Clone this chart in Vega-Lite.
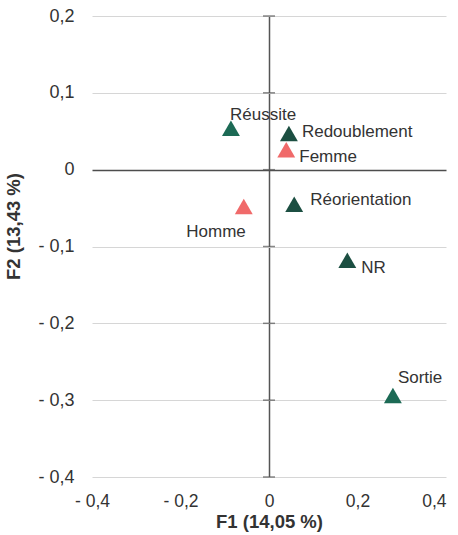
{
  "$schema": "https://vega.github.io/schema/vega-lite/v6.json",
  "width": 354,
  "height": 461,
  "autosize": {"type": "none"},
  "padding": {"left": 92, "top": 16, "right": 12, "bottom": 58},
  "background": "white",
  "config": {
    "view": {"stroke": null},
    "font": "Liberation Sans",
    "text": {"font": "Liberation Sans"}
  },
  "datasets": {
    "points": [
      {"modalite": "Réussite", "groupe": "Résultat", "x": -0.086, "y": 0.054},
      {"modalite": "Redoublement", "groupe": "Parcours", "x": 0.045, "y": 0.047},
      {"modalite": "Femme", "groupe": "Sexe", "x": 0.039, "y": 0.026},
      {"modalite": "Homme", "groupe": "Sexe", "x": -0.057, "y": -0.048},
      {"modalite": "Réorientation", "groupe": "Parcours", "x": 0.057, "y": -0.045},
      {"modalite": "NR", "groupe": "Parcours", "x": 0.177, "y": -0.118},
      {"modalite": "Sortie", "groupe": "Résultat", "x": 0.280, "y": -0.294}
    ],
    "graduations": [
      {"x": 0, "y": 0.2},
      {"x": 0, "y": 0.1},
      {"x": 0, "y": 0},
      {"x": 0, "y": -0.1},
      {"x": 0, "y": -0.2},
      {"x": 0, "y": -0.3},
      {"x": 0, "y": -0.4}
    ]
  },
  "encoding": {
    "x": {
      "field": "x",
      "type": "quantitative",
      "scale": {"domain": [-0.4, 0.4], "nice": false, "zero": false},
      "axis": {
        "title": "F1 (14,05 %)",
        "values": [-0.4, -0.2, 0, 0.2, 0.4],
        "labelExpr": "datum.value === 0 ? '0' : (datum.value < 0 ? '- ' : '') + replace(format(abs(datum.value), '.1f'), '.', ',')",
        "labelFont": "Liberation Sans",
        "labelFontSize": 17.5,
        "labelColor": "#333333",
        "labelPadding": 15,
        "labelAlign": {"condition": {"test": "datum.value === 0.4", "value": "right"}, "value": "center"},
        "ticks": false,
        "tickSize": 0,
        "domain": false,
        "grid": true,
        "gridColor": {"condition": {"test": "datum.value === 0", "value": "#555555"}, "value": null},
        "gridWidth": 1.5,
        "titleFont": "Liberation Sans",
        "titleFontSize": 18.5,
        "titleFontWeight": "bold",
        "titleColor": "#333333",
        "titleX": 177,
        "titleY": 44,
        "titleAlign": "center",
        "titleBaseline": "middle"
      }
    },
    "y": {
      "field": "y",
      "type": "quantitative",
      "scale": {"domain": [-0.4, 0.2], "nice": false, "zero": false},
      "axis": {
        "title": "F2 (13,43 %)",
        "values": [-0.4, -0.3, -0.2, -0.1, 0, 0.1, 0.2],
        "labelExpr": "datum.value === 0 ? '0' : (datum.value < 0 ? '- ' : '') + replace(format(abs(datum.value), '.1f'), '.', ',')",
        "labelFont": "Liberation Sans",
        "labelFontSize": 18,
        "labelColor": "#333333",
        "labelPadding": 18,
        "ticks": false,
        "tickSize": 0,
        "domain": false,
        "grid": true,
        "gridColor": {"condition": {"test": "datum.value === 0", "value": "#4d4d4d"}, "value": "#d6d6d6"},
        "gridWidth": {"condition": {"test": "datum.value === 0", "value": 1.5}, "value": 1},
        "titleFont": "Liberation Sans",
        "titleFontSize": 18.5,
        "titleFontWeight": "bold",
        "titleColor": "#333333",
        "titleAngle": -90,
        "titleX": -79,
        "titleY": 210,
        "titleAlign": "center",
        "titleBaseline": "middle"
      }
    }
  },
  "layer": [
    {
      "data": {"name": "graduations"},
      "mark": {"type": "tick", "orient": "horizontal", "size": 12, "thickness": 1.5, "color": "#555555"}
    },
    {
      "data": {"name": "points"},
      "mark": {"type": "point", "shape": "triangle-up", "filled": true, "opacity": 1, "size": 320},
      "encoding": {
        "color": {
          "field": "groupe",
          "type": "nominal",
          "scale": {"domain": ["Sexe", "Parcours", "Résultat"], "range": ["#f06a6a", "#1c4f42", "#1c6a55"]},
          "legend": null
        }
      }
    },
    {
      "data": {"name": "points"},
      "transform": [{"filter": {"field": "modalite", "equal": "Réussite"}}],
      "mark": {"type": "text", "align": "left", "baseline": "alphabetic", "dx": -1, "dy": -8.5, "fontSize": 17, "color": "#333333"},
      "encoding": {"text": {"field": "modalite"}}
    },
    {
      "data": {"name": "points"},
      "transform": [{"filter": {"field": "modalite", "equal": "Redoublement"}}],
      "mark": {"type": "text", "align": "left", "baseline": "alphabetic", "dx": 13, "dy": 3.5, "fontSize": 17, "color": "#333333"},
      "encoding": {"text": {"field": "modalite"}}
    },
    {
      "data": {"name": "points"},
      "transform": [{"filter": {"field": "modalite", "equal": "Femme"}}],
      "mark": {"type": "text", "align": "left", "baseline": "alphabetic", "dx": 13, "dy": 12, "fontSize": 17, "color": "#333333"},
      "encoding": {"text": {"field": "modalite"}}
    },
    {
      "data": {"name": "points"},
      "transform": [{"filter": {"field": "modalite", "equal": "Homme"}}],
      "mark": {"type": "text", "align": "right", "baseline": "alphabetic", "dx": 2, "dy": 30, "fontSize": 17, "color": "#333333"},
      "encoding": {"text": {"field": "modalite"}}
    },
    {
      "data": {"name": "points"},
      "transform": [{"filter": {"field": "modalite", "equal": "Réorientation"}}],
      "mark": {"type": "text", "align": "left", "baseline": "alphabetic", "dx": 16, "dy": 0.5, "fontSize": 17, "color": "#333333"},
      "encoding": {"text": {"field": "modalite"}}
    },
    {
      "data": {"name": "points"},
      "transform": [{"filter": {"field": "modalite", "equal": "NR"}}],
      "mark": {"type": "text", "align": "left", "baseline": "alphabetic", "dx": 14, "dy": 13, "fontSize": 17, "color": "#333333"},
      "encoding": {"text": {"field": "modalite"}}
    },
    {
      "data": {"name": "points"},
      "transform": [{"filter": {"field": "modalite", "equal": "Sortie"}}],
      "mark": {"type": "text", "align": "left", "baseline": "alphabetic", "dx": 5, "dy": -12.5, "fontSize": 17, "color": "#333333"},
      "encoding": {"text": {"field": "modalite"}}
    }
  ]
}
